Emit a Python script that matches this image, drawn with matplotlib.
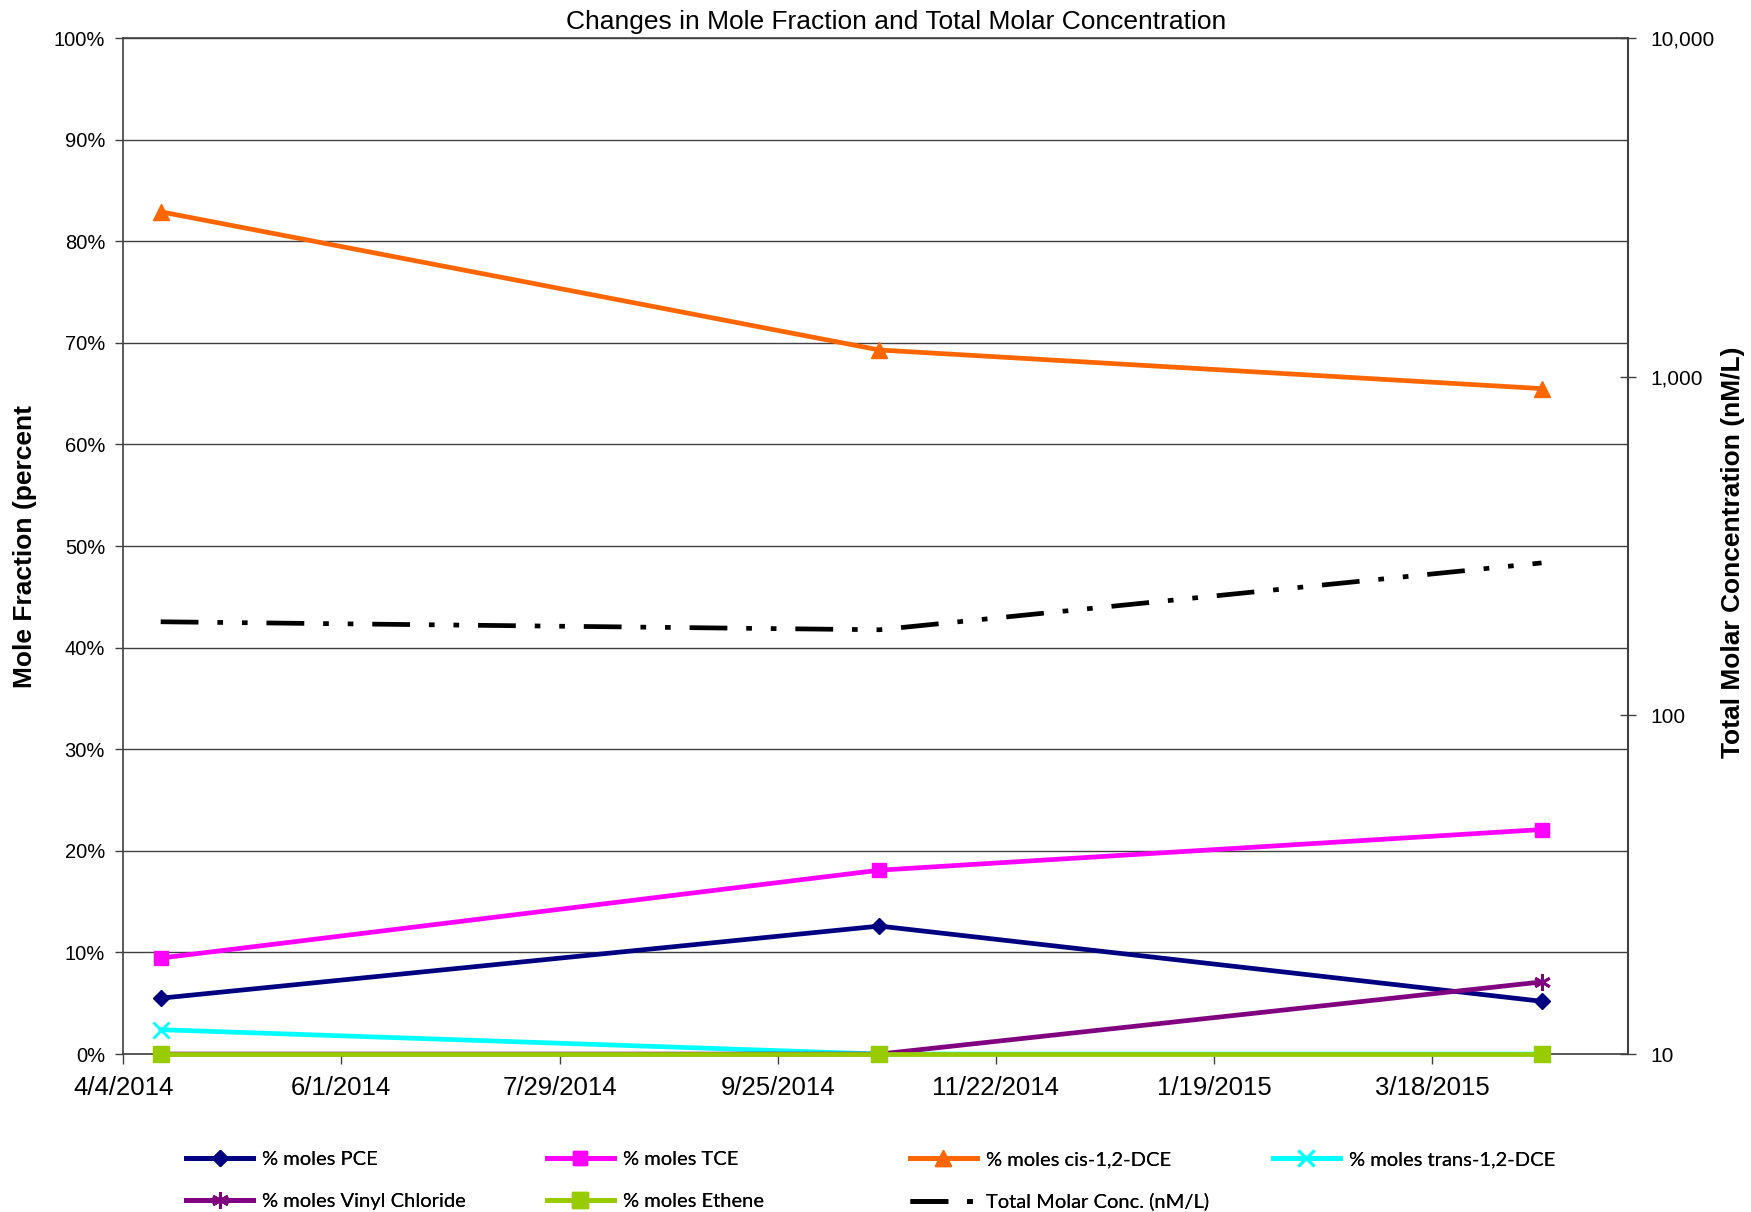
import datetime as dt
import numpy as np
import matplotlib
matplotlib.use('Agg')
import matplotlib.pyplot as plt
import matplotlib.dates as mdates
from matplotlib.ticker import FixedLocator, FuncFormatter, NullLocator

# sample dates and values
dates = [dt.date(2014, 4, 14), dt.date(2014, 10, 22), dt.date(2015, 4, 16)]
pce = [5.5, 12.6, 5.2]
tce = [9.45, 18.1, 22.1]
cis_dce = [82.9, 69.3, 65.5]
trans_dce = [2.4, 0.0, 0.0]
vinyl_chloride = [0.0, 0.0, 7.1]
ethene = [0.0, 0.0, 0.0]
total_conc = [189, 179, 282]

series_labels = ['% moles PCE', '% moles TCE', '% moles cis-1,2-DCE', '% moles trans-1,2-DCE',
                 '% moles Vinyl Chloride', '% moles Ethene']
total_label = 'Total Molar Conc. (nM/L)'

x_start = dt.date(2014, 4, 4)
x_end = dt.date(2015, 5, 9)
tick_step_days = 58
left_ticks = list(range(0, 101, 10))
right_ticks = [10, 100, 1000, 10000]

plt.rcParams['font.family'] = ['Liberation Sans', 'DejaVu Sans']

fig = plt.figure(figsize=(17.51, 12.12), dpi=100)
ax = fig.add_axes([0.0703, 0.1303, 0.8595, 0.8383])

styles = [
    dict(color='#000080', marker='D', ms=8),
    dict(color='#FF00FF', marker='s', ms=10),
    dict(color='#FF6600', marker='^', ms=11),
    dict(color='#00FFFF', marker='x', ms=11, mew=2),
    dict(color='#800080', marker=(6, 2, 0), ms=12, mew=2),
    dict(color='#99CC00', marker='s', ms=12),
]
values = [pce, tce, cis_dce, trans_dce, vinyl_chloride, ethene]
handles = []
for vals, lab, st in zip(values, series_labels, styles):
    h, = ax.plot(dates, vals, lw=3.4, label=lab, clip_on=False, zorder=3, **st)
    handles.append(h)

ax.set_xlim(x_start, x_end)
ax.set_ylim(0, 100)
ax.set_yticks(left_ticks)
ax.set_yticklabels([f'{v}%' for v in left_ticks])
ax.tick_params(axis='y', labelsize=14.5, length=6, width=1, color='#404040', pad=7)
ax.grid(axis='y', color='#404040', lw=1.0)
ax.set_axisbelow(True)

xt = [x_start + dt.timedelta(days=tick_step_days * k) for k in range(7)]
ax.set_xticks(xt)
ax.xaxis.set_major_formatter(FuncFormatter(
    lambda v, p: (lambda d: f'{d.month}/{d.day}/{d.year}')(mdates.num2date(v))))
ax.tick_params(axis='x', labelsize=18.5, length=7, width=1, color='#404040', pad=9)

for side in ['left', 'bottom', 'top']:
    ax.spines[side].set_color('#404040')
    ax.spines[side].set_linewidth(1.2)
ax.spines['right'].set_visible(False)

ax.set_ylabel('Mole Fraction (percent', fontsize=19, fontweight='bold', labelpad=12)

ax2 = ax.twinx()
h_total, = ax2.plot(dates, total_conc, color='black', lw=3.4, dashes=(8, 4, 1.2, 4, 1.2, 4),
                    label=total_label, zorder=4)
ax2.set_yscale('log')
ax2.set_ylim(10, 10000)
ax2.yaxis.set_major_locator(FixedLocator(right_ticks))
ax2.yaxis.set_minor_locator(NullLocator())
ax2.set_yticklabels([f'{v:,}' for v in right_ticks])
ax2.tick_params(axis='y', labelsize=15, length=12, width=1, direction='inout',
                color='#404040', pad=10)
ax2.spines['right'].set_color('#404040')
ax2.spines['right'].set_linewidth(1.5)
for side in ['left', 'bottom', 'top']:
    ax2.spines[side].set_visible(False)

fig.text(0.9897, 0.5446, 'Total Molar Concentration (nM/L)', rotation=90,
         ha='center', va='center', fontsize=19, fontweight='bold')

fig.text(0.5115, 0.982, 'Changes in Mole Fraction and Total Molar Concentration',
         ha='center', va='center', fontsize=19)

# legend: four columns of fixed width, two rows
legend_cols = [[handles[0], handles[4]], [handles[1], handles[5]], [handles[2], h_total], [handles[3]]]
col_x = [0.1065, 0.3125, 0.5198, 0.7271]
for hs, x0 in zip(legend_cols, col_x):
    lg = fig.legend(handles=hs, loc='upper left', bbox_to_anchor=(x0, 0.050),
                    frameon=False, handlelength=3.3, handletextpad=0.45,
                    labelspacing=1.2, borderpad=0, borderaxespad=0,
                    prop={'family': ['Lato', 'DejaVu Sans'], 'size': 14.5})
    fig.add_artist(lg)

fig.savefig('out.png', dpi=100)
